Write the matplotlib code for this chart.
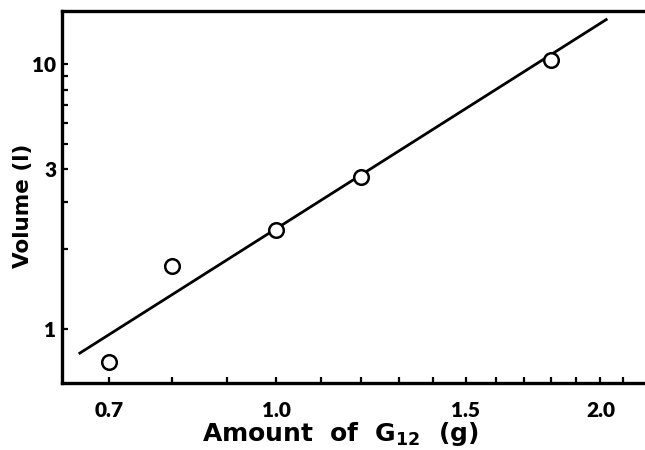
import matplotlib
matplotlib.use("Agg")
import matplotlib.pyplot as plt
from matplotlib.ticker import FixedLocator, NullFormatter

plt.rcParams['font.family'] = ['Lato', 'DejaVu Sans']
plt.rcParams['font.weight'] = 'bold'
plt.rcParams['axes.labelweight'] = 'bold'
plt.rcParams['mathtext.default'] = 'regular'
plt.rcParams['mathtext.fontset'] = 'dejavusans'

# data
amount = [0.7, 0.8, 1.0, 1.2, 1.8]
volume = [0.753, 1.73, 2.36, 3.76, 10.36]

# fitted line, end points
fit_x = [0.656, 2.03]
fit_y = [0.805, 14.8]

x_major = [0.7, 1.0, 1.5, 2.0]
x_major_labels = ['0.7', '1.0', '1.5', '2.0']
x_minor = [0.8, 0.9, 1.1, 1.2, 1.3, 1.4, 1.6, 1.7, 1.8, 1.9, 2.1]

# the "3" label sits at the 4 position in the original figure
y_major = [1, 4, 10]
y_major_labels = ['1', '3', '10']
y_minor = [2, 3, 5, 6, 7, 8, 9]

fig = plt.figure(figsize=(6.45, 4.5), dpi=100)
ax = fig.add_axes([0.0961, 0.149, 0.9039, 0.8266])

ax.plot(fit_x, fit_y, color='black', lw=2.0, solid_capstyle='butt', zorder=2)
ax.plot(amount, volume, 'o', ms=10.5, mfc='white', mec='black', mew=1.8, zorder=3)

ax.set_xscale('log')
ax.set_yscale('log')
ax.set_xlim(0.633, 2.2)
ax.set_ylim(0.625, 15.85)

ax.xaxis.set_major_locator(FixedLocator(x_major))
ax.set_xticklabels(x_major_labels, fontweight='heavy')
ax.xaxis.set_minor_locator(FixedLocator(x_minor))
ax.xaxis.set_minor_formatter(NullFormatter())
ax.yaxis.set_major_locator(FixedLocator(y_major))
ax.set_yticklabels(y_major_labels, fontweight='heavy')
ax.yaxis.set_minor_locator(FixedLocator(y_minor))
ax.yaxis.set_minor_formatter(NullFormatter())

ax.tick_params(which='both', direction='in', length=4, width=1.6,
               top=False, right=False, labelsize=15)
ax.tick_params(axis='x', which='both', pad=13)
ax.tick_params(axis='y', which='both', pad=4)

for side in ['left', 'bottom', 'top']:
    ax.spines[side].set_linewidth(2.4)
ax.spines['right'].set_visible(False)

ax.set_xlabel('Amount  of  G$_{12}$  (g)', fontsize=18, family='DejaVu Sans')
ax.xaxis.set_label_coords(0.477, -0.100)
ax.set_ylabel('Volume (l)', fontsize=15.5, family='DejaVu Sans')
ax.yaxis.set_label_coords(-0.050, 0.477)

fig.savefig('out.png', dpi=100)
